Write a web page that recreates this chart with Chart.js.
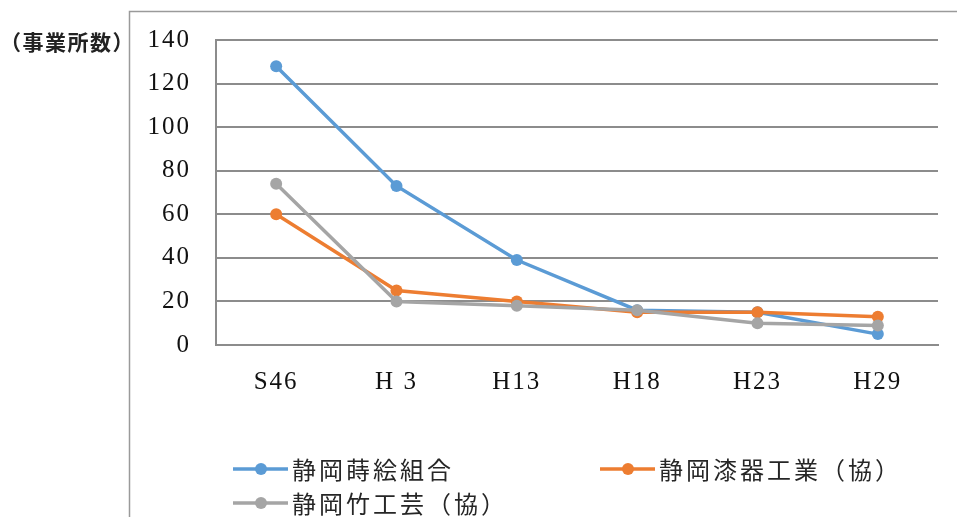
<!DOCTYPE html>
<html>
<head>
<meta charset="utf-8">
<script src="https://cdn.jsdelivr.net/npm/chart.js@4"></script>
<style>
  html, body { margin: 0; padding: 0; background: #fff; }
  #wrap { width: 957px; height: 517px; position: relative; }
</style>
</head>
<body>
<div id="wrap"><canvas id="chart"></canvas></div>
<script>
// 年度ごとの事業所数
const years = ['S46', 'H 3', 'H13', 'H18', 'H23', 'H29'];
const makieKumiai = [128, 73, 39, 16, 15, 5];   // 静岡蒔絵組合
const shikkiKogyo = [60, 25, 20, 15, 15, 13];   // 静岡漆器工業（協）
const takeKogei = [74, 20, 18, 16, 10, 9];      // 静岡竹工芸（協）
const yTicks = [0, 20, 40, 60, 80, 100, 120, 140];

const seriesNames = ['静岡蒔絵組合', '静岡漆器工業（協）', '静岡竹工芸（協）'];
const seriesColors = ['#5b9bd5', '#ed7d31', '#a5a5a5'];

const serif = "'Liberation Serif', 'Times New Roman', serif";
const sans = "'Noto Sans CJK JP', 'Noto Sans', sans-serif";

const makeSet = (i, data, order) => ({
    label: seriesNames[i],
    data: data,
    borderColor: seriesColors[i],
    backgroundColor: seriesColors[i],
    borderWidth: 3.5,
    pointRadius: 6,
    pointHoverRadius: 6,
    pointBorderWidth: 0,
    tension: 0,
    order: order
});

// frame, unit label and a hand-laid legend
const decor = {
    id: 'decor',
    beforeDraw(chart) {
        const ctx = chart.ctx;
        ctx.save();
        ctx.strokeStyle = '#9a9a9a';
        ctx.lineWidth = 1.5;
        ctx.strokeRect(129.5, 11.5, 1000, 1000);
        ctx.restore();
        ctx.letterSpacing = '2px';
    },
    afterDraw(chart) {
        const ctx = chart.ctx;
        ctx.save();
        ctx.letterSpacing = '1.5px';
        ctx.fillStyle = '#222';
        ctx.font = 'bold 21px ' + sans;
        ctx.textBaseline = 'middle';
        ctx.textAlign = 'left';
        ctx.fillText('（事業所数）', 0, 42);

        const slots = [
            { x: 233, y: 469 },
            { x: 600, y: 469 },
            { x: 233, y: 503 }
        ];
        ctx.font = '24px ' + sans;
        ctx.letterSpacing = '3px';
        chart.data.datasets.forEach((ds, i) => {
            const s = slots[i];
            ctx.strokeStyle = ds.borderColor;
            ctx.lineWidth = 3.5;
            ctx.beginPath();
            ctx.moveTo(s.x, s.y);
            ctx.lineTo(s.x + 55, s.y);
            ctx.stroke();
            ctx.fillStyle = ds.backgroundColor;
            ctx.beginPath();
            ctx.arc(s.x + 28, s.y, 6, 0, Math.PI * 2);
            ctx.fill();
            ctx.fillStyle = '#262626';
            ctx.fillText(ds.label, s.x + 59, s.y + 1);
        });
        ctx.restore();
    }
};

new Chart(document.getElementById('chart'), {
    type: 'line',
    data: {
        labels: years,
        datasets: [
            makeSet(0, makieKumiai, 3),
            makeSet(1, shikkiKogyo, 2),
            makeSet(2, takeKogei, 1)
        ]
    },
    options: {
        responsive: true,
        maintainAspectRatio: false,
        animation: false,
        layout: { padding: { left: 130, right: 19, top: 40, bottom: 0 } },
        plugins: {
            legend: { display: false },
            tooltip: { enabled: false }
        },
        scales: {
            x: {
                offset: true,
                grid: { display: false, drawTicks: false },
                border: { display: true, color: '#8c8c8c', width: 2 },
                ticks: {
                    color: '#111',
                    font: { family: serif, size: 25 },
                    padding: 22,
                    maxRotation: 0
                },
                afterFit(scale) { scale.height = 172; }
            },
            y: {
                min: 0,
                max: 140,
                afterBuildTicks(scale) {
                    scale.ticks = yTicks.map(v => ({ value: v }));
                },
                grid: { color: '#8c8c8c', lineWidth: 2, drawTicks: false },
                border: { display: true, color: '#8c8c8c', width: 2 },
                ticks: {
                    color: '#111',
                    font: { family: serif, size: 25 },
                    padding: 25
                },
                afterFit(scale) { scale.width = 86; }
            }
        }
    },
    plugins: [decor]
});
</script>
</body>
</html>
